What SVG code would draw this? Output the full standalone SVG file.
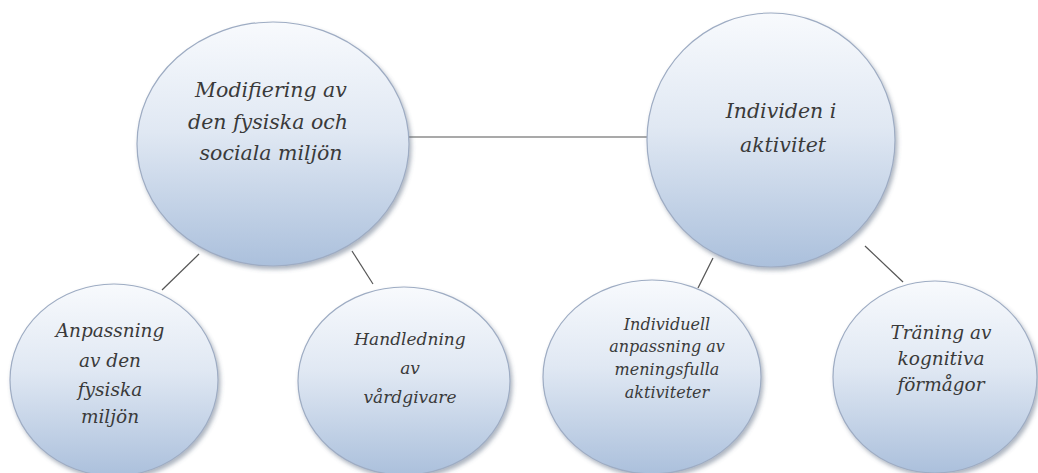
<svg xmlns="http://www.w3.org/2000/svg" width="1038" height="473" viewBox="0 0 1038 473">
  <defs>
    <linearGradient id="bubbleFill" x1="0" y1="0" x2="0" y2="1">
      <stop offset="0" stop-color="#f8fafd"/>
      <stop offset="0.45" stop-color="#e0e8f3"/>
      <stop offset="1" stop-color="#abc0dc"/>
    </linearGradient>
    <filter id="bubbleShadow" x="-10%" y="-10%" width="125%" height="125%">
      <feDropShadow dx="2" dy="3" stdDeviation="2" flood-color="#4a5a75" flood-opacity="0.45"/>
    </filter>
    <style>
      .bubble { fill: url(#bubbleFill); stroke: #9eacc3; stroke-width: 1.2; filter: url(#bubbleShadow); }
      .label { font-family: "DejaVu Serif", "Liberation Serif", serif; font-style: italic; fill: #3a3a3a; text-anchor: middle; }
      .big { font-size: 20.5px; }
      .mid { font-size: 17px; }
      .small { font-size: 18.5px; }
      .tiny { font-size: 16px; }
      .link { stroke: #555555; stroke-width: 1.2; fill: none; }
    </style>
  </defs>

  <rect width="1038" height="473" fill="#ffffff"/>

  <!-- connectors -->
  <g id="connectors">
    <line class="link" x1="409" y1="137" x2="647" y2="137"/>
    <line class="link" x1="199" y1="254" x2="162" y2="290"/>
    <line class="link" x1="352" y1="251" x2="373" y2="284"/>
    <line class="link" x1="713" y1="258" x2="698" y2="288"/>
    <line class="link" x1="865" y1="246" x2="903" y2="282"/>
  </g>

  <!-- main topics -->
  <g id="node-miljo">
    <ellipse class="bubble" cx="273" cy="144" rx="136" ry="122"/>
    <text class="label big" x="271" y="97">Modifiering av</text>
    <text class="label big" x="268" y="129">den fysiska och</text>
    <text class="label big" x="271" y="160">sociala miljön</text>
  </g>

  <g id="node-individen">
    <ellipse class="bubble" cx="771" cy="140" rx="124" ry="127"/>
    <text class="label big" x="781" y="118">Individen i</text>
    <text class="label big" x="783" y="152">aktivitet</text>
  </g>

  <!-- sub topics -->
  <g id="node-anpassning">
    <ellipse class="bubble" cx="114" cy="380" rx="104" ry="96"/>
    <text class="label small" x="110" y="337">Anpassning</text>
    <text class="label small" x="110" y="367">av den</text>
    <text class="label small" x="110" y="396">fysiska</text>
    <text class="label small" x="110" y="423">miljön</text>
  </g>

  <g id="node-handledning">
    <ellipse class="bubble" cx="404" cy="381" rx="106" ry="94"/>
    <text class="label mid" x="410" y="345">Handledning</text>
    <text class="label mid" x="410" y="374">av</text>
    <text class="label mid" x="410" y="403">vårdgivare</text>
  </g>

  <g id="node-individuell">
    <ellipse class="bubble" cx="652" cy="377" rx="109" ry="97"/>
    <text class="label tiny" x="667" y="330">Individuell</text>
    <text class="label tiny" x="667" y="352">anpassning av</text>
    <text class="label tiny" x="667" y="375">meningsfulla</text>
    <text class="label tiny" x="667" y="398">aktiviteter</text>
  </g>

  <g id="node-traning">
    <ellipse class="bubble" cx="935" cy="377" rx="102" ry="96"/>
    <text class="label small" x="941" y="339">Träning av</text>
    <text class="label small" x="941" y="365">kognitiva</text>
    <text class="label small" x="941" y="391">förmågor</text>
  </g>
</svg>
